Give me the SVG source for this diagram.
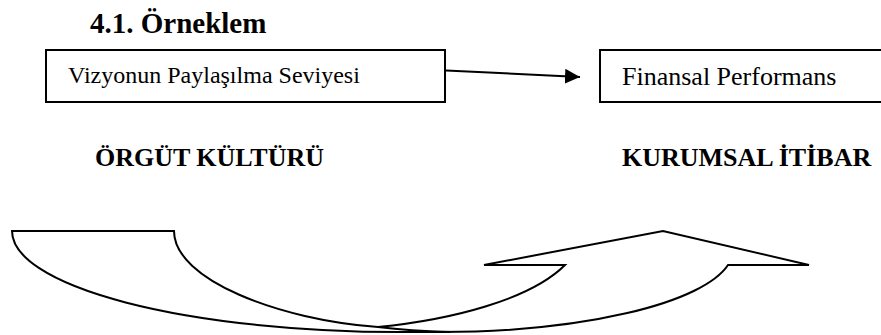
<svg xmlns="http://www.w3.org/2000/svg" width="881" height="335" viewBox="0 0 881 335">
  <style>
    .box { fill: #ffffff; stroke: #000000; stroke-width: 2; }
    .serif { font-family: "Liberation Serif", "Times New Roman", serif; fill: #000000; }
    .bold { font-weight: bold; }
    .conn { fill: none; stroke: #000000; stroke-width: 2; }
    .shape { fill: #ffffff; stroke: #000000; stroke-width: 2; stroke-linejoin: miter; }
  </style>
  <defs>
    <marker id="arrowhead" markerUnits="userSpaceOnUse" markerWidth="16" markerHeight="16" refX="15" refY="7.5" orient="auto">
      <path d="M0,0 L15,7.5 L0,15 Z" fill="#000000"/>
    </marker>
  </defs>

  <rect x="0" y="0" width="881" height="335" fill="#ffffff"/>

  <g id="heading">
    <text class="serif bold" x="90" y="33" font-size="29">4.1. Örneklem</text>
  </g>

  <g id="node-vizyon">
    <rect class="box" x="46" y="50" width="399" height="52"/>
    <text class="serif" x="68" y="83" font-size="24">Vizyonun Paylaşılma Seviyesi</text>
  </g>

  <g id="node-finansal">
    <rect class="box" x="600" y="50" width="300" height="52"/>
    <text class="serif" x="622" y="85" font-size="26">Finansal Performans</text>
  </g>

  <g id="label-orgut">
    <text class="serif bold" x="95" y="166" font-size="26">ÖRGÜT KÜLTÜRÜ</text>
  </g>

  <g id="label-kurumsal">
    <text class="serif bold" x="622" y="166" font-size="26">KURUMSAL İTİBAR</text>
  </g>

  <g id="connectors">
    <line class="conn" x1="446" y1="70.5" x2="580" y2="77" marker-end="url(#arrowhead)"/>
  </g>

  <!-- curved U-turn arrow linking the two labels -->
  <g id="curved-arrow">
    <path class="shape" d="M12,231 L174,231 C174,280 280,320 378,327 C450,320 530,300 565,265 L484,265 L663,231 L809,265 L728,265 A293,82 0 0 1 440,332 L400,332 A388,101 0 0 1 12,231 Z"/>
    <path class="conn" d="M378,327 Q410,331 450,332"/>
  </g>
</svg>
